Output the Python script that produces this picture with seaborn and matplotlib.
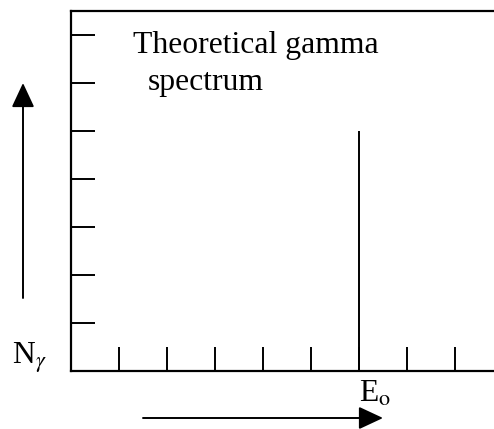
import matplotlib
matplotlib.use("Agg")
import matplotlib.pyplot as plt
from matplotlib.patches import FancyArrowPatch
import seaborn as sns

# Spectrum: a single sharp line at the photopeak energy
energy_channel = [6]
line_height = [5]
x_ticks = [1, 2, 3, 4, 5, 6, 7, 8]
y_ticks = [1, 2, 3, 4, 5, 6, 7]
title_lines = ["Theoretical gamma", "spectrum"]
y_label = r"N$_\gamma$"
x_label = r"E$_\mathrm{o}$"

sns.set_theme(style="ticks")
plt.rcParams["font.family"] = ["Liberation Serif", "DejaVu Serif"]
plt.rcParams["mathtext.fontset"] = "stix"
plt.rcParams["text.color"] = "black"

W, H = 494, 429
fig = plt.figure(figsize=(W / 100, H / 100), dpi=100)
fig.patch.set_facecolor("white")

left, bottom, top = 71, 58, 11
ax = fig.add_axes([left / W, bottom / H, 432 / W, (H - bottom - top) / H])
ax.set_facecolor("white")

ax.vlines(energy_channel, 0, line_height, color="black", linewidth=1.4)

ax.set_xlim(0, 9)
ax.set_ylim(0, 7.5)
ax.set_xticks(x_ticks)
ax.set_yticks(y_ticks)
ax.set_xticklabels([])
ax.set_yticklabels([])
ax.tick_params(direction="in", length=17.3, width=1.4, color="black")
for s in ax.spines.values():
    s.set_color("black")
    s.set_linewidth(1.6)

fs = 22.8
fig.text(133 / W, 1 - 53 / H, title_lines[0], fontsize=fs, va="baseline",
         ha="left", color="black")
fig.text(148 / W, 1 - 90 / H, title_lines[1], fontsize=fs, va="baseline",
         ha="left", color="black")
fig.text(12 / W, 1 - 364 / H, y_label, fontsize=fs, va="baseline",
         ha="left", color="black")
fig.text(359 / W, 1 - 402 / H, x_label, fontsize=fs, va="baseline",
         ha="left", color="black")

# Direction arrows for the two axes
style = "-|>,head_length=15,head_width=7"
up = FancyArrowPatch((23, H - 298), (23, H - 83), transform=None,
                     arrowstyle=style, mutation_scale=1, color="black",
                     linewidth=1.4, shrinkA=0, shrinkB=0)
right = FancyArrowPatch((143, H - 418), (383, H - 418), transform=None,
                        arrowstyle=style, mutation_scale=1, color="black",
                        linewidth=1.4, shrinkA=0, shrinkB=0)
fig.add_artist(up)
fig.add_artist(right)

fig.savefig("out.png", dpi=100)
